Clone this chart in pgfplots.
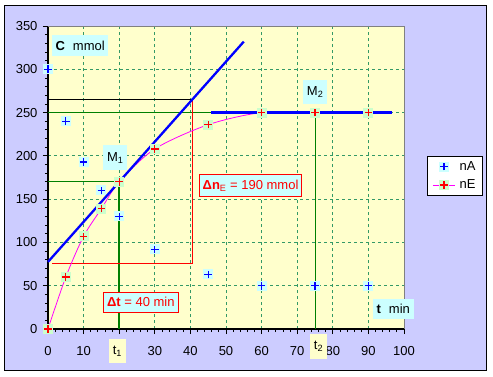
\documentclass[border=0pt]{standalone}
\usepackage{fontspec}
\setmainfont{Liberation Sans}
\usepackage{pgfplots}
\pgfplotsset{compat=1.18}

\definecolor{lav}{RGB}{204,204,255}
\definecolor{ylw}{RGB}{255,255,204}
\definecolor{cyb}{RGB}{204,255,255}
\definecolor{grb}{RGB}{204,255,204}
\definecolor{gridg}{RGB}{51,153,102}
\definecolor{dkg}{RGB}{0,128,0}
\definecolor{mag}{RGB}{255,0,255}

\pgfdeclareplotmark{bplus}{%
 \pgfpathrectangle{\pgfpoint{-5pt}{-5pt}}{\pgfpoint{10pt}{10pt}}%
 \pgfusepath{fill}%
 \pgfpathmoveto{\pgfpoint{-3.8pt}{0pt}}\pgfpathlineto{\pgfpoint{3.8pt}{0pt}}%
 \pgfpathmoveto{\pgfpoint{0pt}{-3.8pt}}\pgfpathlineto{\pgfpoint{0pt}{3.8pt}}%
 \pgfusepath{stroke}}

\pgfplotstableread{
t nA
0 300
5 240
10 193
15 160
20 130
30 92
45 63
60 50
75 50
90 50
}\tA
\pgfplotstableread{
t nE
0 0
5 60
10 107
15 139
20 170
30 208
45 236
60 250
75 250
90 250
}\tE

\newcommand{\fs}{\fontsize{13}{14}\selectfont}

\begin{document}
\begin{tikzpicture}
\fill[white] (-48pt,-47pt) rectangle (445pt,329pt);
\draw[black, line width=1pt, fill=lav] (-43pt,-41pt) rectangle (438pt,324pt);
\begin{axis}[
 at={(0pt,0pt)}, anchor=south west, scale only axis, width=356pt, height=303pt,
 xmin=0,xmax=100,ymin=0,ymax=350,
 xtick={0,10,...,100}, ytick={0,50,...,350},
 xticklabels={0,10,,30,40,50,60,70,80,90,100},
 minor x tick num=4, minor y tick num=4,
 axis x line*=bottom, axis y line*=left,
 axis line style={-, black, line width=1.2pt},
 tick align=outside,
 major tick length=5pt, minor tick length=3pt,
 tick style={black, line width=0.8pt},
 grid=major, major grid style={gridg, dash pattern=on 3pt off 3pt, line width=0.9pt},
 axis background/.style={fill=ylw},
 tick label style={font=\fs},
 xticklabel style={yshift=-9pt},
 yticklabel style={xshift=-2pt},
 /pgf/number format/assume math mode=true,
 clip=false,
 legend style={at={(1.0646,0.571)}, anchor=north west, draw, line width=0.8pt, fill=white, font=\fs, legend cell align=left, row sep=4pt, inner xsep=5pt, inner ysep=3pt},
]
\addlegendimage{legend image code/.code={\draw plot[mark=bplus, mark options={fill=cyb, draw=blue, line width=1.2pt}] coordinates {(11pt,0pt)};}}
\addlegendentry{\,nA}
\addlegendimage{legend image code/.code={\draw[draw=mag, line width=1.1pt] (0pt,0pt) -- (22pt,0pt); \draw plot[mark=bplus, mark options={fill=grb, draw=red, line width=1.2pt}] coordinates {(11pt,0pt)};}}
\addlegendentry{\,nE}
\draw[gray, line width=1pt] (axis cs:0,350) -- (axis cs:100,350) -- (axis cs:100,0);
% helper lines
\addplot[black, line width=0.8pt, forget plot] coordinates {(0,265) (40.6,265)};
\addplot[dkg, line width=0.9pt, forget plot] coordinates {(0,250) (75,250) (75,0)};
\addplot[dkg, line width=0.9pt, forget plot] coordinates {(0,170) (20,170)};
\addplot[dkg, line width=1.8pt, forget plot] coordinates {(20,170) (20,0)};
\addplot[red, line width=0.9pt, forget plot] coordinates {(40.6,265) (40.6,76) (1,76)};
% nE curve
\addplot[mag, line width=0.8pt, smooth, forget plot] table[x=t,y=nE] {\tE};
\addplot[blue, line width=2.3pt, forget plot] coordinates {(0,77.5) (55,332)};
\addplot[blue, line width=2.3pt, forget plot] coordinates {(45.8,250) (96.5,250)};
% text boxes
\node[fill=cyb, minimum width=56pt, minimum height=21pt, inner sep=0pt, anchor=north west, font=\fs] at (axis cs:1.12,339.6) {\textbf{C}\,\, mmol};
\node[fill=cyb, minimum width=24pt, minimum height=25pt, inner sep=0pt, font=\fs] at (axis cs:18.9,198) {M\textsubscript{1}};
\node[fill=cyb, minimum width=24pt, minimum height=24pt, inner sep=0pt, font=\fs] at (axis cs:75.05,273.5) {M\textsubscript{2}};
\node[fill=cyb, draw=red, line width=0.9pt, minimum width=102pt, minimum height=22pt, inner sep=0pt, font=\fs, text=red] at (axis cs:56.9,165.4) {\textbf{Δn}\textsubscript{E} = 190 mmol};
\node[fill=cyb, draw=red, line width=0.9pt, minimum width=75pt, minimum height=20pt, inner sep=0pt, font=\fs, text=red] at (axis cs:26.07,30.8) {\textbf{Δt} = 40 min};
\node[fill=cyb, minimum width=41pt, minimum height=20pt, inner sep=0pt, font=\fs] at (axis cs:97,23.1) {\textbf{t}\,\, min};
\coordinate (t1) at (axis cs:19.5,0);
\coordinate (t2) at (axis cs:76,0);
% data
\addplot[only marks, mark=bplus, mark options={fill=cyb, draw=blue, line width=1.2pt}, forget plot] table[x=t,y=nA] {\tA};
\addplot[only marks, mark=bplus, mark options={fill=grb, draw=red, line width=1.2pt}, forget plot] table[x=t,y=nE] {\tE};
\end{axis}
\node[fill=ylw, minimum width=17pt, minimum height=24pt, inner sep=0pt, font=\fs] at ([yshift=-22.3pt]t1) {t\textsubscript{1}};
\node[fill=ylw, minimum width=17pt, minimum height=25pt, inner sep=0pt, font=\fs] at ([yshift=-17.3pt]t2) {t\textsubscript{2}};
\end{tikzpicture}
\end{document}
